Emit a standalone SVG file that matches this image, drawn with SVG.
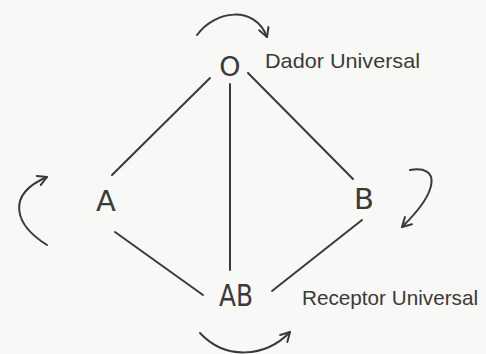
<svg xmlns="http://www.w3.org/2000/svg" width="486" height="354" viewBox="0 0 486 354">
<style>
.ln{stroke:#3a3a3a;stroke-width:2;fill:none;stroke-linecap:round}
.lbl{font-family:"DejaVu Sans",sans-serif;fill:#3a3a3a;text-anchor:middle}
.cap{font-family:"Liberation Sans",Arial,sans-serif;fill:#3a3a3a;font-size:21px}
</style>
<defs>
<marker id="ah" viewBox="0 0 12 12" refX="10" refY="6" markerWidth="12" markerHeight="12" markerUnits="userSpaceOnUse" orient="auto">
<path d="M1,1 L10,6 L1,11" fill="none" stroke="#3a3a3a" stroke-width="2" stroke-linecap="round" stroke-linejoin="round"/>
</marker>
</defs>
<rect width="486" height="354" fill="#f8f8f7"/>
<g id="connectors">
<line class="ln" x1="210" y1="78" x2="112" y2="175"/>
<line class="ln" x1="248" y1="73" x2="353" y2="179"/>
<line class="ln" x1="230" y1="84" x2="230" y2="270"/>
<line class="ln" x1="115" y1="232" x2="203" y2="295"/>
<line class="ln" x1="362" y1="220" x2="272" y2="291"/>
<path class="ln" d="M197,35 C215,10 255,5 267,37" marker-end="url(#ah)"/>
<path class="ln" d="M47,245 C15,225 5,195 47,177" marker-end="url(#ah)"/>
<path class="ln" d="M410,170 C440,165 440,190 402,227" marker-end="url(#ah)"/>
<path class="ln" d="M200,333 C225,360 265,358 290,332" marker-end="url(#ah)"/>
</g>
<g id="node-O"><text class="lbl" x="230" y="76" font-size="27">O</text></g>
<g id="node-A"><text class="lbl" x="106" y="211" font-size="29">A</text></g>
<g id="node-B"><text class="lbl" x="364" y="209" font-size="29">B</text></g>
<g id="node-AB"><text class="lbl" x="236" y="306" font-size="30" textLength="34" lengthAdjust="spacingAndGlyphs">AB</text></g>
<g id="label-dador"><text class="cap" x="265" y="68" textLength="155" lengthAdjust="spacingAndGlyphs">Dador Universal</text></g>
<g id="label-receptor"><text class="cap" x="302" y="305" textLength="176" lengthAdjust="spacingAndGlyphs">Receptor Universal</text></g>
</svg>
